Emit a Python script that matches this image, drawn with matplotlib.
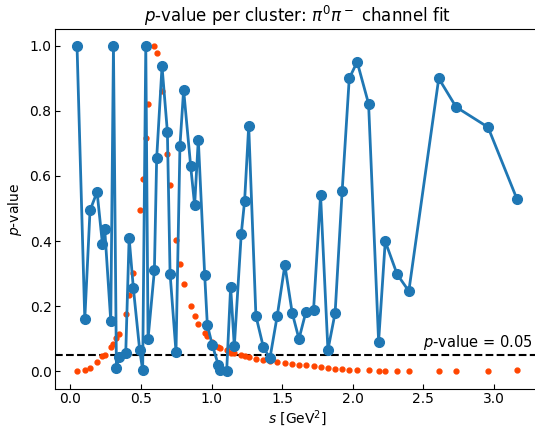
import matplotlib
matplotlib.use("Agg")
import matplotlib.pyplot as plt

# cluster centres in s [GeV^2]
s = [0.047, 0.102, 0.139, 0.189, 0.227, 0.243, 0.286, 0.305, 0.326, 0.345,
     0.392, 0.416, 0.446, 0.491, 0.512, 0.534, 0.550, 0.595, 0.611, 0.649,
     0.687, 0.706, 0.748, 0.776, 0.802, 0.852, 0.880, 0.906, 0.951, 0.970,
     1.005, 1.048, 1.060, 1.107, 1.135, 1.161, 1.210, 1.234, 1.263, 1.314,
     1.366, 1.413, 1.465, 1.519, 1.571, 1.619, 1.668, 1.722, 1.772, 1.824,
     1.875, 1.925, 1.975, 2.031, 2.112, 2.183, 2.230, 2.314, 2.397, 2.609,
     2.732, 2.958, 3.163]

# p-value of the fit per cluster
pval = [1.0, 0.159, 0.494, 0.551, 0.391, 0.438, 0.154, 1.0, 0.010, 0.044,
        0.055, 0.410, 0.255, 0.064, 0.003, 1.0, 0.099, 0.310, 0.654, 0.937,
        0.736, 0.300, 0.059, 0.693, 0.865, 0.630, 0.510, 0.712, 0.297, 0.142,
        0.080, 0.019, 0.002, 0.001, 0.260, 0.076, 0.421, 0.524, 0.754, 0.170,
        0.075, 0.039, 0.170, 0.326, 0.179, 0.099, 0.182, 0.187, 0.541, 0.065,
        0.179, 0.555, 0.900, 0.951, 0.822, 0.091, 0.399, 0.298, 0.246, 0.900,
        0.812, 0.750, 0.529]

# normalised shape shown for reference (orange dots)
shape = [0.0, 0.002, 0.010, 0.028, 0.045, 0.049, 0.073, 0.084, 0.103, 0.113,
         0.175, 0.233, 0.302, 0.495, 0.591, 0.716, 0.821, 1.0, 0.977, 0.860,
         0.667, 0.573, 0.403, 0.330, 0.267, 0.200, 0.170, 0.146, 0.116, 0.107,
         0.090, 0.075, 0.070, 0.064, 0.057, 0.055, 0.050, 0.047, 0.042, 0.037,
         0.035, 0.032, 0.028, 0.025, 0.022, 0.020, 0.018, 0.016, 0.013, 0.011,
         0.008, 0.006, 0.004, 0.004, 0.002, 0.001, 0.001, 0.001, 0.001, 0.001,
         0.001, 0.001, 0.002]

threshold = 0.05

fig = plt.figure(figsize=(5.35, 4.28), dpi=100)
ax = fig.add_axes([55/535, 1 - 389/428, 484/535, 360/428])

ax.plot(s, shape, 'o', color='orangered', markersize=3.5, zorder=2)
ax.plot(s, pval, 'o-', color='tab:blue', markersize=7, linewidth=2, zorder=3)
ax.axhline(threshold, color='black', linestyle='--', linewidth=1.5, zorder=1)
ax.text(3.275, threshold + 0.008, '$p$-value = 0.05', ha='right', va='bottom', fontsize=10.5)

ax.set_xlim(-0.109, 3.319)
ax.set_ylim(-0.055, 1.052)
ax.tick_params(direction='in', pad=2.5)
ax.set_title(r'$p$-value per cluster: $\pi^0\pi^-$ channel fit', fontsize=12, pad=5)
ax.set_xlabel('$s$ [GeV$^2$]', labelpad=1)
ax.set_ylabel('$p$-value')

fig.savefig('out.png', dpi=100)
